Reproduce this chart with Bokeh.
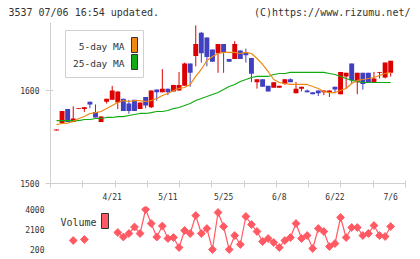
import math
import numpy as np
from bokeh.plotting import figure
from bokeh.models import Range1d, FixedTicker, LinearAxis
from bokeh.layouts import column
from bokeh.embed import file_html
from bokeh.resources import INLINE
from bokeh.core.properties import value

# ---------------- data ----------------
date_ticks = [10, 20, 30, 40, 50, 60]
date_labels = ["4/21", "5/11", "5/25", "6/8", "6/22", "7/6"]

opens  = [1557, 1565, 1580, 1566, 1580, 1580, 1588, 1577, 1566, 1588,
          1590, 1587, 1591, 1586, 1590, 1580, 1593, 1582, 1601, 1598,
          1602, 1599, 1600, 1605, 1629, 1637, 1662, 1657, 1644, 1640,
          1650, 1634, 1634, 1643, 1641, 1635, 1609, 1612, 1605, 1603,
          1603, 1607, 1612, 1597, 1602, 1600, 1598, 1600, 1598, 1598,
          1604, 1596, 1615, 1629, 1609, 1619, 1619, 1609, 1619, 1614,
          1619]
highs  = [1558, 1578, 1580, 1583, 1581, 1582, 1588, 1585, 1572, 1591,
          1605, 1599, 1591, 1590, 1590, 1587, 1593, 1600, 1601, 1623,
          1602, 1606, 1620, 1630, 1629, 1670, 1663, 1657, 1644, 1650,
          1650, 1634, 1653, 1643, 1645, 1635, 1612, 1612, 1605, 1609,
          1605, 1612, 1613, 1609, 1604, 1601, 1598, 1600, 1600, 1600,
          1604, 1620, 1619, 1629, 1619, 1619, 1619, 1620, 1620, 1630,
          1632]
lows   = [1557, 1565, 1566, 1566, 1580, 1577, 1581, 1571, 1566, 1586,
          1590, 1580, 1578, 1575, 1578, 1580, 1581, 1581, 1589, 1598,
          1595, 1599, 1600, 1605, 1604, 1626, 1630, 1626, 1631, 1619,
          1619, 1631, 1634, 1634, 1630, 1609, 1602, 1604, 1599, 1603,
          1603, 1606, 1609, 1597, 1599, 1598, 1596, 1594, 1595, 1593,
          1597, 1596, 1602, 1608, 1596, 1601, 1609, 1609, 1613, 1613,
          1615]
closes = [1558, 1578, 1566, 1570, 1581, 1582, 1585, 1571, 1572, 1591,
          1600, 1599, 1578, 1578, 1578, 1587, 1584, 1600, 1598, 1602,
          1598, 1606, 1606, 1629, 1619, 1650, 1640, 1636, 1631, 1650,
          1641, 1631, 1650, 1634, 1638, 1618, 1612, 1604, 1599, 1609,
          1605, 1612, 1609, 1602, 1604, 1598, 1596, 1597, 1600, 1600,
          1601, 1620, 1619, 1611, 1619, 1607, 1609, 1613, 1620, 1630,
          1632]
ma5    = [1563.4, 1564.5, 1565.0, 1566.7, 1569.9, 1572.0, 1575.3, 1576.3, 1577.4, 1580.6,
          1583.9, 1587.1, 1589.2, 1588.2, 1589.2, 1589.2, 1588.2, 1589.2, 1591.4, 1594.6,
          1596.8, 1600.0, 1602.2, 1603.2, 1606.5, 1615.1, 1622.6, 1632.3, 1636.6, 1639.8,
          1640.9, 1640.9, 1640.9, 1639.8, 1640.9, 1639.8, 1634.4, 1628.0, 1620.4, 1611.8,
          1608.6, 1607.5, 1606.5, 1606.5, 1606.5, 1606.5, 1604.3, 1602.2, 1598.9, 1597.8,
          1597.8, 1600.0, 1602.2, 1607.5, 1610.8, 1611.8, 1612.9, 1614.0, 1616.1, 1618.3,
          1619.4]
ma25   = [1567.7, 1567.7, 1567.7, 1567.7, 1567.7, 1568.8, 1568.8, 1569.9, 1569.9, 1571.0,
          1571.0, 1572.0, 1572.0, 1573.1, 1574.2, 1575.3, 1575.3, 1576.3, 1577.4, 1577.4,
          1578.5, 1580.6, 1581.7, 1583.9, 1586.0, 1589.2, 1591.4, 1593.5, 1595.7, 1597.8,
          1601.1, 1604.3, 1606.5, 1609.7, 1611.8, 1614.0, 1615.1, 1615.1, 1615.1, 1617.2,
          1618.3, 1618.3, 1619.4, 1619.4, 1619.4, 1619.4, 1619.4, 1619.4, 1619.4, 1618.3,
          1617.2, 1615.1, 1612.9, 1610.8, 1609.7, 1608.6, 1608.6, 1608.6, 1608.6, 1608.6,
          1608.6]
nan = float("nan")
volume = [nan, nan, nan, 1055, nan, 1150, nan, nan, nan, nan,
          nan, 1815, 1387, 1720, 2337, 1720, 4000, 2670, 1387, 2432,
          1245, 1340, 390, 2005, 1720, 3430, 1720, 2195, 200, 3715,
          2385, 200, 1530, 675, 3335, 2575, 1910, 960, 1245, 865,
          390, 1055, 1340, 2670, 1245, 1530, 295, 2195, 1910, 485,
          770, 3240, 1340, 2290, 2290, 1530, 1720, 2480, 1530, 1435,
          2385]
vol_ticks = [200, 2100, 4000]
price_ticks = [1500, 1600]
header_left = "3537 07/06 16:54 updated."
header_right = "(C)https://www.rizumu.net/"

# ---------------- styling ----------------
RED = "#dd0000"
BLUE = "#4040c0"
ORANGE = "#ee8811"
GREEN = "#11aa11"
VOLC = "#ff5a64"
AXC = "#d0d0d0"
TXT = "#333333"
MONO = "DejaVu Sans Mono"

N = len(opens)
xs = list(range(N))
X0, X1 = -1.08, 62.66
Y0, Y1 = 1500.0, 1500.0 + 161 / 0.93
V0, V1 = -560.0, 4285.0

TOP_B = 22
BOT_B = 21
P1_H = TOP_B + 161 + BOT_B
P2_TOP = P1_H  # page y where the volume canvas starts

def mx(px):
    return X0 + (px - 50) / 355 * (X1 - X0)

def my(py):
    return Y0 + (183 - py) / 161 * (Y1 - Y0)

def vy(py):
    return V0 + (257 - py) / 51 * (V1 - V0)

# ---------------- price panel ----------------
p1 = figure(width=420, height=P1_H, x_range=Range1d(X0, X1), y_range=Range1d(Y0, Y1),
            output_backend="svg", toolbar_location=None,
            min_border_left=50, min_border_right=15, min_border_top=TOP_B, min_border_bottom=BOT_B)
p1.outline_line_color = None
p1.xgrid.visible = False
p1.ygrid.visible = False

up = [c >= o for o, c in zip(opens, closes)]
cols = [RED if u else BLUE for u in up]
tops = [max(o, c) for o, c in zip(opens, closes)]
bots = [min(o, c) for o, c in zip(opens, closes)]

p1.segment(x0=xs, x1=xs, y0=lows, y1=highs, color=cols, line_width=1)
p1.vbar(x=xs, width=0.88, top=tops, bottom=bots, fill_color=cols, line_color=None)
p1.line(xs, ma25, color=GREEN, line_width=1.2)
p1.line(xs, ma5, color=ORANGE, line_width=1.2)

# MA legend
p1.quad(left=[mx(65)], right=[mx(143)], top=[my(30)], bottom=[my(77)],
        fill_color="white", line_color=AXC, line_width=1)
p1.text(x=[mx(124), mx(124)], y=[my(46), my(63)], text=["5-day MA", "25-day MA"],
        text_font=value(MONO), text_font_size=value("9.5px"), text_color=TXT,
        text_align="right", text_baseline="middle")
p1.quad(left=[mx(131), mx(131)], right=[mx(137), mx(137)], top=[my(37), my(54)],
        bottom=[my(52), my(69)], fill_color=[ORANGE, GREEN], line_color="#333333", line_width=1)

xa = p1.xaxis[0]
xa.ticker = FixedTicker(ticks=date_ticks, minor_ticks=list(np.linspace(X0 + 0.01, X1 - 0.01, 12)))
xa.major_label_overrides = {t: l for t, l in zip(date_ticks, date_labels)}
xa.major_tick_in = 0
xa.major_tick_out = 0
xa.minor_tick_in = 3
xa.minor_tick_out = 4
xa.minor_tick_line_color = AXC
xa.axis_line_color = AXC
xa.major_label_standoff = 5
xa.major_label_text_font = MONO
xa.major_label_text_font_size = "8px"
xa.major_label_text_color = TXT

ya = p1.yaxis[0]
ya.ticker = FixedTicker(ticks=price_ticks)
ya.major_tick_in = 3
ya.major_tick_out = 5
ya.major_tick_line_color = AXC
ya.minor_tick_line_color = None
ya.axis_line_color = AXC
ya.major_label_standoff = 6
ya.major_label_text_font = MONO
ya.major_label_text_font_size = "8px"
ya.major_label_text_color = TXT

# header line, drawn as the labels of a bare axis above the price panel
hl_pos = round(mx(8 + 75.2), 4)
hr_pos = round(mx(410 - 78.3), 4)
top_axis = LinearAxis(ticker=FixedTicker(ticks=[hl_pos, hr_pos]),
                      major_label_overrides={hl_pos: header_left, hr_pos: header_right},
                      axis_line_color=None, major_tick_line_color=None, minor_tick_line_color=None,
                      major_tick_in=0, major_tick_out=0, major_label_standoff=5,
                      major_label_text_font=MONO, major_label_text_font_size="10px",
                      major_label_text_color=TXT)
p1.add_layout(top_axis, "above")

# ---------------- volume panel ----------------
p2 = figure(width=420, height=259 - P2_TOP, x_range=p1.x_range, y_range=Range1d(V0, V1),
            output_backend="svg", toolbar_location=None,
            min_border_left=50, min_border_right=15,
            min_border_top=206 - P2_TOP, min_border_bottom=2)
p2.outline_line_color = None
p2.xgrid.visible = False
p2.ygrid.visible = False
p2.xaxis.visible = False

p2.line(xs, volume, color=VOLC, line_width=1.2)
p2.scatter(xs, volume, marker="square", angle=math.pi / 4, size=5.5,
           fill_color=VOLC, line_color=VOLC)

p2.text(x=[mx(96)], y=[vy(222)], text=["Volume"], text_font=value(MONO),
        text_font_size=value("10px"), text_color=TXT, text_align="right", text_baseline="middle")
p2.quad(left=[mx(101)], right=[mx(108)], top=[vy(213)], bottom=[vy(228)],
        fill_color=VOLC, line_color="#333333", line_width=1)

va = p2.yaxis[0]
va.ticker = FixedTicker(ticks=vol_ticks)
va.axis_line_color = None
va.major_tick_line_color = None
va.minor_tick_line_color = None
va.major_tick_in = 0
va.major_tick_out = 0
va.major_label_standoff = 6
va.major_label_text_font = MONO
va.major_label_text_font_size = "8px"
va.major_label_text_color = TXT

layout = column(p1, p2, spacing=0)
open("out.html", "w").write(file_html(layout, INLINE))
